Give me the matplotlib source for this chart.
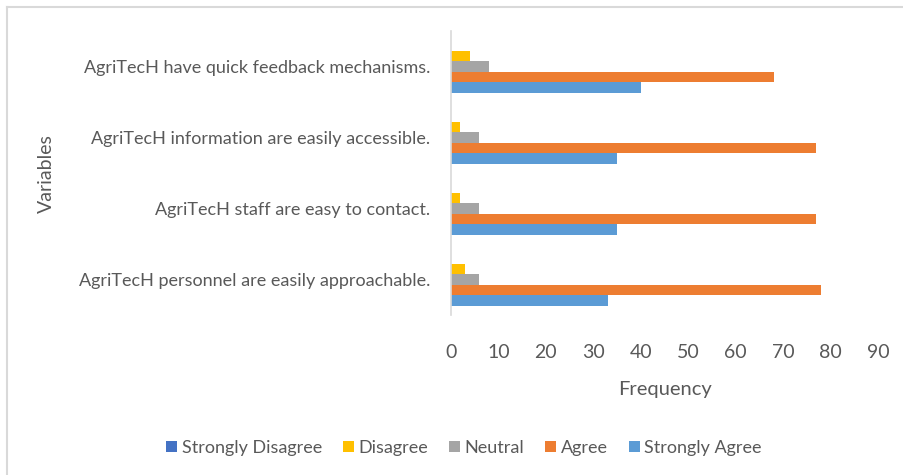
import numpy as np
import matplotlib.pyplot as plt
from matplotlib.lines import Line2D

plt.rcParams['font.family'] = ['Lato', 'DejaVu Sans']

categories = ["AgriTecH have quick feedback mechanisms.",
              "AgriTecH information are easily accessible.",
              "AgriTecH staff are easy to contact.",
              "AgriTecH personnel are easily approachable."]
series = ["Strongly Disagree", "Disagree", "Neutral", "Agree", "Strongly Agree"]
strongly_disagree = [0, 0, 0, 0]
disagree = [4, 2, 2, 3]
neutral = [8, 6, 6, 6]
agree = [68, 77, 77, 78]
strongly_agree = [40, 35, 35, 33]
colors = ["#4472C4", "#FFC000", "#A5A5A5", "#ED7D31", "#5B9BD5"]

txt = "#595959"
fig = plt.figure(figsize=(9.04, 4.75), dpi=100)
ax = fig.add_axes([0.4989, 0.3368, 0.4723, 0.5979])

y = np.arange(len(categories))
h = 0.148
values = [strongly_disagree, disagree, neutral, agree, strongly_agree]
for i, (name, vals, c) in enumerate(zip(series, values, colors)):
    ax.barh(y + (i - 2) * h, vals, height=h, color=c, label=name)

ax.set_ylim(-0.5, len(categories) - 0.5)
ax.invert_yaxis()
ax.set_xlim(0, 90)
ax.set_xticks(np.arange(0, 91, 10))
ax.set_yticks(y)
ax.set_yticklabels(categories)
ax.tick_params(axis='both', length=0, colors=txt)
ax.tick_params(axis='x', pad=21, labelsize=14)
ax.tick_params(axis='y', pad=15, labelsize=13)
for s in ['top', 'right', 'bottom']:
    ax.spines[s].set_visible(False)
ax.spines['left'].set_color('#d9d9d9')
ax.spines['left'].set_linewidth(1.2)

fig.text(665 / 904, 1 - 389 / 475, "Frequency", ha='center', va='center',
         fontsize=14.5, color=txt)
fig.text(46 / 904, 1 - 174 / 475, "Variables", ha='center', va='center',
         rotation=90, fontsize=14, color=txt)

fig.legend(loc='center', bbox_to_anchor=(464 / 904, 1 - 448 / 475), ncol=5,
           frameon=False, fontsize=13, labelcolor=txt, handlelength=0.62,
           handleheight=0.62, handletextpad=0.25, columnspacing=1.15)

fig.add_artist(Line2D([7 / 904, 7 / 904], [0, 1 - 7 / 475], transform=fig.transFigure,
                      color='#d9d9d9', lw=1.5))
fig.add_artist(Line2D([7 / 904, 1], [1 - 7 / 475, 1 - 7 / 475], transform=fig.transFigure,
                      color='#d9d9d9', lw=1.5))

fig.savefig("out.png", dpi=100)
